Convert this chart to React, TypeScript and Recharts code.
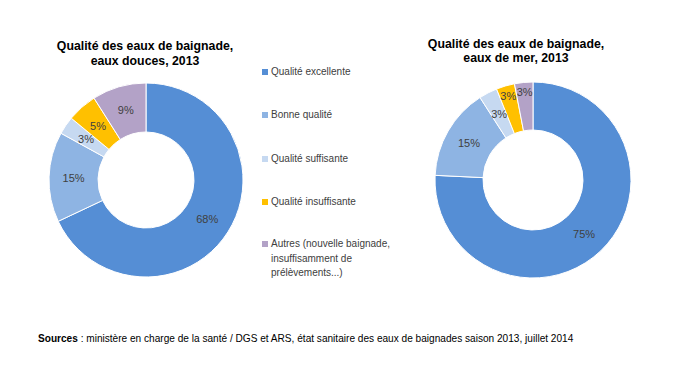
import React from "react";
import { PieChart, Pie, Cell } from "recharts";

const categories = [
  "Qualité excellente",
  "Bonne qualité",
  "Qualité suffisante",
  "Qualité insuffisante",
  "Autres (nouvelle baignade, insuffisamment de prélèvements...)",
];
const legendLines = [
  ["Qualité excellente"],
  ["Bonne qualité"],
  ["Qualité suffisante"],
  ["Qualité insuffisante"],
  ["Autres (nouvelle baignade,", "insuffisamment de", "prélèvements...)"],
];
const eauxDouces = [68, 15, 3, 5, 9];
const eauxMer = [75, 15, 3, 3, 3];
const titleDouces = ["Qualité des eaux de baignade,", "eaux douces, 2013"];
const titleMer = ["Qualité des eaux de baignade,", "eaux de mer, 2013"];
const colors = ["#558ED5", "#8EB4E3", "#C6D9F1", "#FFC000", "#B3A2C7"];

const FONT = "'Liberation Sans', Arial, sans-serif";
const RAD = Math.PI / 180;

const makeData = (vals: number[]) =>
  categories.map((name, i) => ({ name, value: vals[i] }));

const makeLabel = (outerIdx: number[]) => (props: any) => {
  const { cx, cy, midAngle, innerRadius, outerRadius, value, index } = props;
  const r = outerIdx.includes(index)
    ? outerRadius - 10
    : (innerRadius + outerRadius) / 2;
  const x = cx + r * Math.cos(-midAngle * RAD);
  const y = cy + r * Math.sin(-midAngle * RAD);
  return (
    <text
      x={x}
      y={y}
      textAnchor="middle"
      dominantBaseline="central"
      fontFamily={FONT}
      fontSize={11}
      fill="#404040"
    >
      {value}%
    </text>
  );
};

const Title = ({ lines, cx, top, lh }: { lines: string[]; cx: number; top: number; lh: number }) => (
  <div
    style={{
      position: "absolute",
      left: cx - 120,
      top,
      width: 240,
      textAlign: "center",
      fontFamily: FONT,
      fontWeight: "bold",
      fontSize: 12.3,
      lineHeight: lh + "px",
      color: "#000",
    }}
  >
    {lines.map((l, i) => (
      <div key={i}>{l}</div>
    ))}
  </div>
);

export default function App() {
  const legendTops = [65, 108, 152, 195, 237];
  return (
    <div
      style={{
        position: "absolute",
        left: 0,
        top: 0,
        width: 680,
        height: 370,
        background: "#fff",
        overflow: "hidden",
      }}
    >
      <PieChart
        width={680}
        height={370}
        margin={{ top: 0, right: 0, bottom: 0, left: 0 }}
        style={{ position: "absolute", left: 0, top: 0 }}
      >
        <Pie
          data={makeData(eauxDouces)}
          dataKey="value"
          cx={146}
          cy={180}
          innerRadius={48}
          outerRadius={97}
          startAngle={90}
          endAngle={-270}
          stroke="#fff"
          strokeWidth={1}
          isAnimationActive={false}
          labelLine={false}
          label={makeLabel([])}
        >
          {eauxDouces.map((_, i) => (
            <Cell key={i} fill={colors[i]} />
          ))}
        </Pie>
        <Pie
          data={makeData(eauxMer)}
          dataKey="value"
          cx={533}
          cy={180}
          innerRadius={50}
          outerRadius={98}
          startAngle={90}
          endAngle={-270}
          stroke="#fff"
          strokeWidth={1}
          isAnimationActive={false}
          labelLine={false}
          label={makeLabel([3, 4])}
        >
          {eauxMer.map((_, i) => (
            <Cell key={i} fill={colors[i]} />
          ))}
        </Pie>
      </PieChart>
      <Title lines={titleDouces} cx={145} top={39} lh={15} />
      <Title lines={titleMer} cx={516} top={38} lh={13.5} />
      {legendLines.map((lines, i) => (
        <div
          key={i}
          style={{
            position: "absolute",
            left: 262,
            top: legendTops[i],
            fontFamily: FONT,
            fontSize: 10,
            lineHeight: "14.5px",
            color: "#404040",
          }}
        >
          <span
            style={{
              position: "absolute",
              left: 0,
              top: 4,
              width: 6,
              height: 6,
              background: colors[i],
            }}
          />
          <div style={{ marginLeft: 9 }}>
            {lines.map((l, j) => (
              <div key={j}>{l}</div>
            ))}
          </div>
        </div>
      ))}
      <div
        style={{
          position: "absolute",
          left: 38,
          top: 333,
          fontFamily: FONT,
          fontSize: 10.1,
          color: "#000",
          whiteSpace: "nowrap",
        }}
      >
        <b>Sources</b> : ministère en charge de la santé / DGS et ARS, état sanitaire des eaux de baignades saison 2013, juillet 2014
      </div>
    </div>
  );
}
